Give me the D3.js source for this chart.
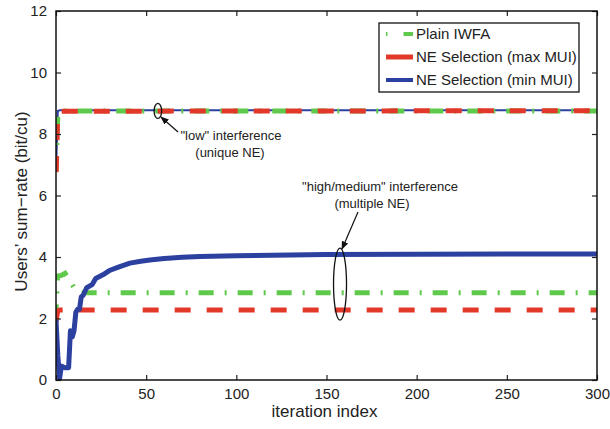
<!DOCTYPE html>
<html>
<head>
<meta charset="utf-8">
<script src="https://cdn.jsdelivr.net/npm/d3@7"></script>
<style>
  body { margin: 0; background: #fff; }
  text { font-family: "Liberation Sans", Arial, sans-serif; fill: #222; }
</style>
</head>
<body>
<div id="chart"></div>
<script>
// Chart data
const xTicks = [0, 50, 100, 150, 200, 250, 300];
const yTicks = [0, 2, 4, 6, 8, 10, 12];

// "low" interference (unique NE): all three algorithms converge to the same point
const lowIter = [0, 1, 2, 300];
const lowPlain = [6.8, 8.6, 8.75, 8.75];
const lowMax = [6.5, 8.7, 8.74, 8.76];
const lowMin = [6.8, 8.75, 8.77, 8.77];

// "high/medium" interference (multiple NE)
const highPlainIter = [0, 1, 3, 5, 8, 11, 13, 300];
const highPlain = [2.3, 3.38, 3.4, 3.47, 3.2, 2.9, 2.84, 2.84];
const highMaxIter = [0, 1, 2, 300];
const highMax = [1.9, 2.25, 2.28, 2.28];
const highMinIter = [0, 1, 2, 3, 5, 7, 8, 9, 10, 11, 12, 13, 14, 15, 17, 20, 22, 26, 30, 35, 41, 47, 52, 60, 70, 80, 100, 120, 150, 200, 250, 300];
const highMin = [1.95, 0.8, 0.05, 0.45, 0.4, 0.4, 1.6, 1.4, 1.6, 2.2, 2.3, 2.3, 2.7, 2.75, 3.0, 3.1, 3.3, 3.42, 3.57, 3.68, 3.8, 3.86, 3.9, 3.95, 3.99, 4.02, 4.04, 4.06, 4.08, 4.09, 4.1, 4.1];

const legendLabels = ["Plain IWFA", "NE Selection (max MUI)", "NE Selection (min MUI)"];

const colors = { plain: "#5ec94b", max: "#e2382a", min: "#2c40a0" };

const margin = { top: 11, right: 13, bottom: 49, left: 56 };
const W = 610, H = 429;
const width = W - margin.left - margin.right;
const height = H - margin.top - margin.bottom;

const svg = d3.select("#chart").append("svg")
  .attr("width", W).attr("height", H);

const g = svg.append("g").attr("transform", `translate(${margin.left},${margin.top})`);

const x = d3.scaleLinear().domain([0, 300]).range([0, width]);
const y = d3.scaleLinear().domain([0, 12]).range([height, 0]);

const line = d3.line().x(d => x(d[0])).y(d => y(d[1]));
const zip = (xs, ys) => xs.map((v, i) => [v, ys[i]]);

g.append("defs").append("clipPath").attr("id", "clip")
  .append("rect").attr("width", width).attr("height", height + 3).attr("y", -3);

const plot = g.append("g").attr("clip-path", "url(#clip)");

const plainDash = "15,11,2,11";
const maxDash = "16,16";

// low interference curves
plot.append("path").datum(zip(lowIter, lowMin)).attr("d", line)
  .attr("fill", "none").attr("stroke", colors.min).attr("stroke-width", 2);
plot.append("path").datum(zip(lowIter, lowPlain)).attr("d", line)
  .attr("fill", "none").attr("stroke", colors.plain).attr("stroke-width", 5)
  .attr("stroke-dasharray", plainDash);
plot.append("path").datum(zip(lowIter, lowMax)).attr("d", line)
  .attr("fill", "none").attr("stroke", colors.max).attr("stroke-width", 5)
  .attr("stroke-dasharray", maxDash).attr("stroke-dashoffset", 24);

// high interference curves
plot.append("path").datum(zip(highPlainIter, highPlain)).attr("d", line)
  .attr("fill", "none").attr("stroke", colors.plain).attr("stroke-width", 5)
  .attr("stroke-dasharray", plainDash).attr("stroke-dashoffset", 10);
plot.append("path").datum(zip(highMaxIter, highMax)).attr("d", line)
  .attr("fill", "none").attr("stroke", colors.max).attr("stroke-width", 5)
  .attr("stroke-dasharray", maxDash);
plot.append("path").datum(zip(highMinIter, highMin)).attr("d", line)
  .attr("fill", "none").attr("stroke", colors.min).attr("stroke-width", 5)
  .attr("stroke-linejoin", "round");

// axes with inward ticks on all sides
const axisStyle = sel => {
  sel.select(".domain").remove();
  sel.selectAll(".tick line").attr("stroke", "#222").attr("stroke-width", 1.2);
  sel.selectAll(".tick text").attr("font-size", 15)
    .attr("font-family", "Liberation Sans, Arial, sans-serif").attr("fill", "#222");
};
g.append("g").attr("transform", `translate(0,${height})`)
  .call(d3.axisBottom(x).tickValues(xTicks).tickSize(-5).tickPadding(8))
  .call(axisStyle);
g.append("g")
  .call(d3.axisTop(x).tickValues(xTicks).tickSize(-5).tickFormat(""))
  .call(axisStyle);
g.append("g")
  .call(d3.axisLeft(y).tickValues(yTicks).tickSize(-5).tickPadding(9))
  .call(axisStyle);
g.append("g").attr("transform", `translate(${width},0)`)
  .call(d3.axisRight(y).tickValues(yTicks).tickSize(-5).tickFormat(""))
  .call(axisStyle);

g.append("rect").attr("width", width).attr("height", height)
  .attr("fill", "none").attr("stroke", "#111").attr("stroke-width", 1.5);

// axis labels
svg.append("text").attr("x", margin.left + width / 2 - 2).attr("y", 417)
  .attr("text-anchor", "middle").attr("font-size", 17).text("iteration index");
svg.append("text").attr("transform", `translate(27,${margin.top + height / 2 + 6}) rotate(-90)`)
  .attr("text-anchor", "middle").attr("font-size", 17).text("Users’ sum−rate (bit/cu)");

// annotations
const arrowDefs = svg.append("defs");
arrowDefs.append("marker").attr("id", "arrow").attr("viewBox", "0 0 10 10")
  .attr("refX", 9).attr("refY", 5).attr("markerWidth", 7).attr("markerHeight", 7)
  .attr("orient", "auto")
  .append("path").attr("d", "M0,1 L10,5 L0,9 Z").attr("fill", "#111");

g.append("ellipse").attr("cx", x(56.5)).attr("cy", y(8.75))
  .attr("rx", 3.8).attr("ry", 7.5).attr("fill", "none").attr("stroke", "#111").attr("stroke-width", 1.3);
g.append("line").attr("x1", 178 - margin.left).attr("y1", 132 - margin.top)
  .attr("x2", 161 - margin.left).attr("y2", 117 - margin.top)
  .attr("stroke", "#111").attr("stroke-width", 1.2).attr("marker-end", "url(#arrow)");
svg.append("text").attr("x", 231).attr("y", 140).attr("text-anchor", "middle")
  .attr("font-size", 13).text("\"low\" interference");
svg.append("text").attr("x", 230).attr("y", 157).attr("text-anchor", "middle")
  .attr("font-size", 13).text("(unique NE)");

g.append("ellipse").attr("cx", x(157.5)).attr("cy", y(3.12))
  .attr("rx", 6.5).attr("ry", 36).attr("fill", "none").attr("stroke", "#111").attr("stroke-width", 1.3);
g.append("line").attr("x1", 358 - margin.left).attr("y1", 212 - margin.top)
  .attr("x2", 342 - margin.left).attr("y2", 249 - margin.top)
  .attr("stroke", "#111").attr("stroke-width", 1.2).attr("marker-end", "url(#arrow)");
svg.append("text").attr("x", 380).attr("y", 191).attr("text-anchor", "middle")
  .attr("font-size", 13).text("\"high/medium\" interference");
svg.append("text").attr("x", 372).attr("y", 208).attr("text-anchor", "middle")
  .attr("font-size", 13).text("(multiple NE)");

// legend
const legend = svg.append("g").attr("transform", "translate(379,23)");
legend.append("rect").attr("width", 200).attr("height", 69)
  .attr("fill", "#fff").attr("stroke", "#111").attr("stroke-width", 1.3);
const legendStyles = [
  { color: colors.plain, dash: "1.5,16,10,0", w: 4 },
  { color: colors.max, dash: null, w: 5 },
  { color: colors.min, dash: null, w: 4 }
];
legendLabels.forEach((label, i) => {
  const yy = 11 + i * 23;
  legend.append("line").attr("x1", 7).attr("x2", 34).attr("y1", yy).attr("y2", yy)
    .attr("stroke", legendStyles[i].color).attr("stroke-width", legendStyles[i].w)
    .attr("stroke-dasharray", legendStyles[i].dash);
  legend.append("text").attr("x", 37).attr("y", yy + 5).attr("font-size", 15).text(label);
});
</script>
</body>
</html>
